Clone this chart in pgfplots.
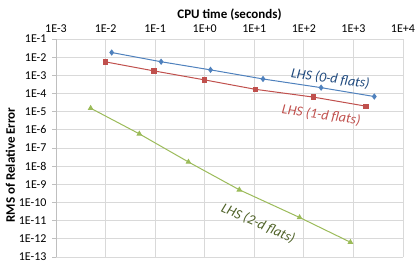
\documentclass[border=0pt]{standalone}
\usepackage{pgfplots}
\pgfplotsset{compat=1.18}
\usepackage{fontspec}
\setmainfont{Carlito}
\definecolor{sblue}{HTML}{4F81BD}
\definecolor{sred}{HTML}{C0504D}
\definecolor{sgreen}{HTML}{9BBB59}
\definecolor{tblue}{HTML}{1F497D}
\definecolor{tred}{HTML}{C0504D}
\definecolor{tgreen}{HTML}{4F6228}
\definecolor{gridc}{HTML}{D9D9D9}
\definecolor{axc}{HTML}{BFBFBF}
\begin{document}
\begin{tikzpicture}
\path[use as bounding box] (-56pt,-6pt) rectangle (360pt,257pt);
\begin{axis}[
  at={(0,0)}, anchor=south west,
  scale only axis, width=347pt, height=218pt,
  xmode=log, ymode=log,
  xmin=1e-3, xmax=1e4, ymin=1e-13, ymax=1e-1,
  axis x line*=top,
  axis y line*=left,
  xtick={1e-3,1e-2,1e-1,1,1e1,1e2,1e3,1e4},
  xticklabels={1E-3,1E-2,1E-1,1E+0,1E+1,1E+2,1E+3,1E+4},
  ytick={1e-1,1e-2,1e-3,1e-4,1e-5,1e-6,1e-7,1e-8,1e-9,1e-10,1e-11,1e-12,1e-13},
  yticklabels={1E-1,1E-2,1E-3,1E-4,1E-5,1E-6,1E-7,1E-8,1E-9,1E-10,1E-11,1E-12,1E-13},
  minor tick num=0, minor xtick={}, minor ytick={},
  grid=major, major grid style={gridc, line width=0.8pt},
  axis line style={axc, line width=0.8pt},
  x axis line style={gridc},
  xtick style={draw=none},
  ytick style={draw=axc, line width=0.8pt},
  tick align=outside, major tick length=4pt,
  ticklabel style={font=\fontsize{12}{13}\selectfont, text=black},
  yticklabel style={xshift=-2pt},
  xticklabel style={yshift=-1pt},
  xlabel={\textbf{CPU time (seconds)}},
  xlabel style={font=\fontsize{13}{14}\selectfont, yshift=-3pt},
  ylabel={\textbf{RMS of Relative Error}},
  ylabel style={font=\fontsize{13}{14}\selectfont, yshift=-3pt, xshift=-17pt},
  clip=false,
]
\addplot[sblue, line width=1pt, mark=diamond*, mark size=2.4pt] coordinates {
 (1.33e-2,1.8e-2) (0.132,5.6e-3) (1.31,2.0e-3) (15,6.3e-4) (223,2.1e-4) (2640,6.8e-5)};
\addplot[sred, line width=1pt, mark=square*, mark size=2.2pt] coordinates {
 (0.01,5.5e-3) (0.095,1.75e-3) (1.0,5.6e-4) (10.5,1.7e-4) (158,6.3e-5) (1800,2.0e-5)};
\addplot[sgreen, line width=1pt, mark=triangle*, mark size=2.4pt] coordinates {
 (5e-3,1.55e-5) (0.048,6e-7) (0.47,1.7e-8) (5,5e-10) (82,1.5e-11) (870,6.5e-13)};
\node[text=tblue, rotate=-8, font=\fontsize{14}{15}\selectfont\itshape] at (axis cs:343,6.5e-4) {LHS (0-d flats)};
\node[text=tred, rotate=-8, font=\fontsize{14}{15}\selectfont\itshape] at (axis cs:224,6.5e-6) {LHS (1-d flats)};
\node[text=tgreen, rotate=-24, font=\fontsize{14}{15}\selectfont\itshape] at (axis cs:12,7e-12) {LHS (2-d flats)};
\end{axis}
\end{tikzpicture}
\end{document}
